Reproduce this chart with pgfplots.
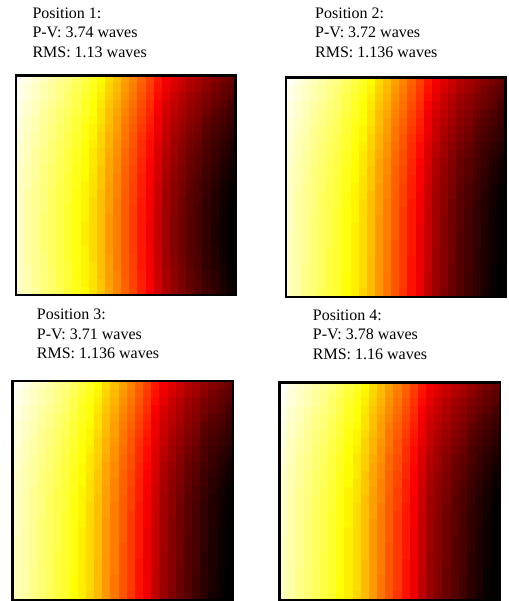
\documentclass[border=0pt]{standalone}
\usepackage{pgfplots}
\pgfplotsset{compat=1.18}
\usepackage{pgfplotstable}
\usepackage{fontspec}
\setmainfont{Liberation Serif}
% x = column, y = row (0 = top); a = position 1, b = positions 2-4
\pgfplotstableread{
x y a b
0 0 99 99
1 0 97 97
2 0 95 95
3 0 93 93
4 0 91 91
5 0 89 89
6 0 87 87
7 0 84 84
8 0 81 81
9 0 78 78
10 0 74 74
11 0 69 69
12 0 65 65
13 0 60 60
14 0 56 56
15 0 51 51
16 0 46 46
17 0 40 40
18 0 35 35
19 0 32 32
20 0 29 29
21 0 26 26
22 0 24 24
23 0 21 21
24 0 19 19
25 0 17 17
26 0 15 15
0 1 98 98
1 1 96 96
2 1 94 94
3 1 92 92
4 1 90 90
5 1 88 88
6 1 86 86
7 1 83 83
8 1 80 80
9 1 77 77
10 1 73 73
11 1 68 68
12 1 64 64
13 1 59 59
14 1 55 55
15 1 50 50
16 1 45 45
17 1 39 39
18 1 34 34
19 1 31 31
20 1 28 28
21 1 25 25
22 1 23 23
23 1 20 20
24 1 17 17
25 1 15 15
26 1 13 13
0 2 98 98
1 2 96 96
2 2 94 94
3 2 92 92
4 2 90 90
5 2 88 88
6 2 85 85
7 2 82 82
8 2 79 79
9 2 76 76
10 2 72 72
11 2 67 67
12 2 63 63
13 2 58 58
14 2 54 54
15 2 49 49
16 2 44 44
17 2 38 38
18 2 33 33
19 2 29 29
20 2 26 26
21 2 23 23
22 2 21 21
23 2 18 18
24 2 16 16
25 2 14 14
26 2 12 12
0 3 97 97
1 3 95 95
2 3 93 93
3 3 91 91
4 3 89 89
5 3 87 87
6 3 85 85
7 3 82 82
8 3 78 78
9 3 75 75
10 3 71 71
11 3 66 66
12 3 62 62
13 3 57 57
14 3 53 53
15 3 48 48
16 3 43 43
17 3 36 36
18 3 31 31
19 3 28 28
20 3 25 25
21 3 22 22
22 3 20 20
23 3 17 17
24 3 15 15
25 3 13 13
26 3 10 10
0 4 97 97
1 4 95 95
2 4 93 93
3 4 90 90
4 4 88 88
5 4 86 86
6 4 84 84
7 4 81 81
8 4 78 78
9 4 75 75
10 4 70 70
11 4 65 65
12 4 61 61
13 4 56 56
14 4 52 52
15 4 47 47
16 4 42 42
17 4 35 35
18 4 30 30
19 4 27 27
20 4 24 24
21 4 21 21
22 4 19 19
23 4 16 16
24 4 13 13
25 4 11 11
26 4 9 9
0 5 96 96
1 5 94 94
2 5 92 92
3 5 90 90
4 5 88 88
5 5 86 86
6 5 83 83
7 5 80 80
8 5 77 77
9 5 74 74
10 5 70 70
11 5 65 65
12 5 60 60
13 5 55 55
14 5 51 51
15 5 46 46
16 5 41 41
17 5 34 34
18 5 29 29
19 5 26 26
20 5 23 23
21 5 20 20
22 5 18 18
23 5 14 14
24 5 12 12
25 5 10 10
26 5 8 8
0 6 96 96
1 6 94 94
2 6 92 92
3 6 89 89
4 6 87 87
5 6 85 85
6 6 83 83
7 6 80 80
8 6 76 76
9 6 73 73
10 6 69 69
11 6 64 64
12 6 60 60
13 6 54 54
14 6 50 50
15 6 45 45
16 6 40 40
17 6 34 34
18 6 28 28
19 6 25 25
20 6 22 22
21 6 19 19
22 6 17 17
23 6 13 13
24 6 11 11
25 6 9 9
26 6 7 7
0 7 96 96
1 7 93 93
2 7 91 91
3 7 89 89
4 7 87 87
5 7 85 85
6 7 82 82
7 7 79 79
8 7 76 76
9 7 73 73
10 7 68 68
11 7 63 63
12 7 59 59
13 7 54 54
14 7 49 49
15 7 44 44
16 7 39 39
17 7 33 33
18 7 28 28
19 7 24 24
20 7 21 21
21 7 18 18
22 7 16 16
23 7 12 12
24 7 10 10
25 7 8 8
26 7 6 6
0 8 95 95
1 8 93 93
2 8 91 91
3 8 89 89
4 8 86 86
5 8 84 84
6 8 82 82
7 8 79 79
8 8 75 75
9 8 72 72
10 8 68 68
11 8 63 63
12 8 58 58
13 8 53 53
14 8 49 49
15 8 43 43
16 8 38 38
17 8 32 32
18 8 27 27
19 8 23 23
20 8 20 20
21 8 17 17
22 8 15 15
23 8 11 11
24 8 9 9
25 8 7 7
26 8 5 5
0 9 95 95
1 9 93 93
2 9 90 90
3 9 88 88
4 9 86 86
5 9 84 84
6 9 81 81
7 9 78 78
8 9 75 75
9 9 71 71
10 9 67 67
11 9 62 62
12 9 58 58
13 9 52 52
14 9 48 48
15 9 43 43
16 9 38 38
17 9 31 31
18 9 26 26
19 9 23 23
20 9 19 19
21 9 16 16
22 9 14 14
23 9 11 11
24 9 8 8
25 9 6 6
26 9 4 4
0 10 95 95
1 10 92 92
2 10 90 90
3 10 88 88
4 10 86 86
5 10 83 83
6 10 81 81
7 10 78 78
8 10 74 74
9 10 71 71
10 10 67 67
11 10 61 61
12 10 57 57
13 10 52 52
14 10 48 48
15 10 42 42
16 10 37 37
17 10 31 31
18 10 25 25
19 10 22 22
20 10 19 19
21 10 15 15
22 10 13 13
23 10 10 10
24 10 8 8
25 10 5 5
26 10 3 3
0 11 94 94
1 11 92 92
2 11 90 90
3 11 87 87
4 11 85 85
5 11 83 83
6 11 81 81
7 11 77 77
8 11 74 74
9 11 71 71
10 11 66 66
11 11 61 61
12 11 57 57
13 11 51 51
14 11 47 47
15 11 42 42
16 11 36 36
17 11 30 30
18 11 25 25
19 11 21 21
20 11 18 18
21 11 15 15
22 11 13 13
23 11 9 9
24 11 7 7
25 11 5 5
26 11 2 2
0 12 94 94
1 12 92 92
2 12 90 90
3 12 87 87
4 12 85 85
5 12 83 83
6 12 80 80
7 12 77 77
8 12 74 74
9 12 70 70
10 12 66 66
11 12 61 61
12 12 56 56
13 12 51 51
14 12 47 47
15 12 41 41
16 12 36 36
17 12 30 30
18 12 24 24
19 12 21 21
20 12 18 18
21 12 14 14
22 12 12 12
23 12 9 9
24 12 6 6
25 12 4 4
26 12 2 2
0 13 94 94
1 13 92 92
2 13 89 89
3 13 87 87
4 13 85 85
5 13 82 82
6 13 80 80
7 13 77 77
8 13 73 73
9 13 70 70
10 13 66 66
11 13 60 60
12 13 56 56
13 13 51 51
14 13 46 46
15 13 41 41
16 13 36 36
17 13 29 29
18 13 24 24
19 13 20 20
20 13 17 17
21 13 14 14
22 13 11 11
23 13 8 8
24 13 6 6
25 13 3 3
26 13 1 1
0 14 94 94
1 14 91 91
2 14 89 89
3 14 87 87
4 14 84 84
5 14 82 82
6 14 80 80
7 14 76 76
8 14 73 73
9 14 70 70
10 14 65 65
11 14 60 60
12 14 56 56
13 14 50 50
14 14 46 46
15 14 41 41
16 14 35 35
17 14 29 29
18 14 23 23
19 14 20 20
20 14 17 17
21 14 13 13
22 14 11 11
23 14 8 8
24 14 5 5
25 14 3 3
26 14 1 1
0 15 94 94
1 15 91 91
2 15 89 89
3 15 87 87
4 15 84 84
5 15 82 82
6 15 80 80
7 15 76 76
8 15 73 73
9 15 69 69
10 15 65 65
11 15 60 60
12 15 55 55
13 15 50 50
14 15 46 46
15 15 40 40
16 15 35 35
17 15 29 29
18 15 23 23
19 15 20 20
20 15 16 16
21 15 13 13
22 15 11 11
23 15 7 7
24 15 5 5
25 15 3 3
26 15 0 0
0 16 94 94
1 16 91 91
2 16 89 89
3 16 87 87
4 16 84 84
5 16 82 82
6 16 79 79
7 16 76 76
8 16 73 73
9 16 69 69
10 16 65 65
11 16 60 60
12 16 55 55
13 16 50 50
14 16 45 45
15 16 40 40
16 16 35 35
17 16 28 28
18 16 23 23
19 16 20 20
20 16 16 16
21 16 13 13
22 16 10 10
23 16 7 7
24 16 5 5
25 16 2 2
26 16 0 0
0 17 94 94
1 17 91 91
2 17 89 89
3 17 86 86
4 17 84 84
5 17 82 82
6 17 79 79
7 17 76 76
8 17 73 73
9 17 69 69
10 17 65 65
11 17 59 59
12 17 55 55
13 17 50 50
14 17 45 45
15 17 40 40
16 17 35 35
17 17 28 28
18 17 23 23
19 17 19 19
20 17 16 16
21 17 13 13
22 17 10 10
23 17 7 7
24 17 5 5
25 17 2 2
26 17 0 0
0 18 94 94
1 18 91 91
2 18 89 89
3 18 86 86
4 18 84 84
5 18 82 82
6 18 79 79
7 18 76 76
8 18 72 72
9 18 69 69
10 18 65 65
11 18 59 59
12 18 55 55
13 18 50 50
14 18 45 45
15 18 40 40
16 18 34 34
17 18 28 28
18 18 23 23
19 18 19 19
20 18 16 16
21 18 13 13
22 18 10 10
23 18 7 7
24 18 4 4
25 18 2 2
26 18 0 0
0 19 94 93
1 19 91 91
2 19 89 89
3 19 86 86
4 19 84 84
5 19 82 82
6 19 79 79
7 19 76 76
8 19 72 72
9 19 69 69
10 19 65 65
11 19 59 59
12 19 55 55
13 19 50 50
14 19 45 45
15 19 40 40
16 19 34 34
17 19 28 28
18 19 23 23
19 19 19 19
20 19 16 16
21 19 13 12
22 19 10 10
23 19 7 7
24 19 4 4
25 19 2 2
26 19 0 0
0 20 94 93
1 20 91 91
2 20 89 89
3 20 86 86
4 20 84 84
5 20 82 82
6 20 79 79
7 20 76 76
8 20 72 72
9 20 69 69
10 20 65 65
11 20 59 59
12 20 55 55
13 20 50 49
14 20 45 45
15 20 40 40
16 20 34 34
17 20 28 28
18 20 23 23
19 20 19 19
20 20 16 16
21 20 13 12
22 20 10 10
23 20 7 7
24 20 4 4
25 20 2 2
26 20 0 0
0 21 94 93
1 21 91 91
2 21 89 89
3 21 86 86
4 21 84 84
5 21 82 81
6 21 79 79
7 21 76 76
8 21 73 72
9 21 69 69
10 21 65 65
11 21 59 59
12 21 55 55
13 21 50 49
14 21 45 45
15 21 40 40
16 21 35 34
17 21 28 28
18 21 23 22
19 21 19 19
20 21 16 16
21 21 13 12
22 21 10 10
23 21 7 6
24 21 5 4
25 21 2 2
26 21 0 0
0 22 94 93
1 22 91 91
2 22 89 89
3 22 87 86
4 22 84 84
5 22 82 81
6 22 79 79
7 22 76 76
8 22 73 72
9 22 69 69
10 22 65 64
11 22 60 59
12 22 55 55
13 22 50 49
14 22 46 45
15 22 40 39
16 22 35 34
17 22 28 28
18 22 23 22
19 22 20 19
20 22 16 16
21 22 13 12
22 22 11 10
23 22 7 6
24 22 5 4
25 22 2 2
26 22 0 0
0 23 94 93
1 23 91 91
2 23 89 88
3 23 87 86
4 23 84 84
5 23 82 81
6 23 80 79
7 23 76 76
8 23 73 72
9 23 70 69
10 23 65 64
11 23 60 59
12 23 55 55
13 23 50 49
14 23 46 45
15 23 40 39
16 23 35 34
17 23 29 28
18 23 23 22
19 23 20 19
20 23 17 15
21 23 13 12
22 23 11 10
23 23 7 6
24 23 5 4
25 23 3 1
26 23 0 0
0 24 94 93
1 24 92 91
2 24 89 88
3 24 87 86
4 24 85 84
5 24 82 81
6 24 80 79
7 24 76 75
8 24 73 72
9 24 70 69
10 24 65 64
11 24 60 59
12 24 56 54
13 24 50 49
14 24 46 45
15 24 41 39
16 24 35 34
17 24 29 27
18 24 24 22
19 24 20 19
20 24 17 15
21 24 14 12
22 24 11 9
23 24 8 6
24 24 6 4
25 24 3 1
26 24 1 0
0 25 94 93
1 25 92 91
2 25 89 88
3 25 87 86
4 25 85 84
5 25 82 81
6 25 80 79
7 25 77 75
8 25 73 72
9 25 70 69
10 25 66 64
11 25 60 59
12 25 56 54
13 25 51 49
14 25 46 45
15 25 41 39
16 25 36 34
17 25 29 27
18 25 24 22
19 25 21 19
20 25 17 15
21 25 14 12
22 25 12 9
23 25 8 6
24 25 6 4
25 25 4 1
26 25 1 0
0 26 94 93
1 26 92 91
2 26 90 88
3 26 87 86
4 26 85 83
5 26 83 81
6 26 80 79
7 26 77 75
8 26 74 72
9 26 70 68
10 26 66 64
11 26 61 59
12 26 56 54
13 26 51 49
14 26 47 44
15 26 41 39
16 26 36 34
17 26 30 27
18 26 25 22
19 26 21 18
20 26 18 15
21 26 15 12
22 26 12 9
23 26 9 6
24 26 7 3
25 26 4 1
26 26 2 0
}\wavedata

\pgfplotsset{
  colormap={hotmap}{rgb255(0cm)=(0,0,0) rgb255(7.3cm)=(255,0,0) rgb255(14.9cm)=(255,255,0) rgb255(20cm)=(255,255,255)},
  wfax/.style={
    scale only axis, anchor=north west,
    xmin=-0.5, xmax=26.5, ymin=-0.5, ymax=26.5, y dir=reverse,
    enlargelimits=false, ticks=none,
    axis line style={line width=2.4bp, black},
    colormap name=hotmap, point meta min=0, point meta max=100,
  },
  cells/.style={scatter, only marks, mark=square*, mark size=4.2bp,
    mark options={line width=0.3bp},
    point meta=explicit,
    scatter/use mapped color={draw=mapped color, fill=mapped color}},
}

\begin{document}
\begin{tikzpicture}[font=\fontsize{16bp}{19.5bp}\selectfont]
\useasboundingbox (0,0) rectangle (509bp,-601bp);

\begin{axis}[wfax, at={(15.8bp,-75.6bp)}, width=219.5bp, height=219.5bp]
\addplot[cells] table[x=x, y=y, meta=a] {\wavedata};
\coordinate (A1) at (rel axis cs:0,0);
\coordinate (B1) at (rel axis cs:1,1);
\end{axis}
\draw[line width=2.4bp] (A1) rectangle (B1);

\begin{axis}[wfax, at={(285.8bp,-77.3bp)}, width=219.5bp, height=219.5bp]
\addplot[cells] table[x=x, y=y, meta=b] {\wavedata};
\coordinate (A2) at (rel axis cs:0,0);
\coordinate (B2) at (rel axis cs:1,1);
\end{axis}
\draw[line width=2.4bp] (A2) rectangle (B2);

\begin{axis}[wfax, at={(12.7bp,-381bp)}, width=220.5bp, height=218.8bp]
\addplot[cells] table[x=x, y=y, meta=b] {\wavedata};
\coordinate (A3) at (rel axis cs:0,0);
\coordinate (B3) at (rel axis cs:1,1);
\end{axis}
\draw[line width=2.4bp] (A3) rectangle (B3);

\begin{axis}[wfax, at={(279.3bp,-382.3bp)}, width=220.5bp, height=217.5bp]
\addplot[cells] table[x=x, y=y, meta=b] {\wavedata};
\coordinate (A4) at (rel axis cs:0,0);
\coordinate (B4) at (rel axis cs:1,1);
\end{axis}
\draw[line width=2.4bp] (A4) rectangle (B4);

\node[anchor=base west, inner sep=0pt] at (32.3bp,-18.3bp) {Position 1:};
\node[anchor=base west, inner sep=0pt] at (32.3bp,-37.8bp) {P-V: 3.74 waves};
\node[anchor=base west, inner sep=0pt] at (32.3bp,-57.3bp) {RMS: 1.13 waves};

\node[anchor=base west, inner sep=0pt] at (315bp,-18.3bp) {Position 2:};
\node[anchor=base west, inner sep=0pt] at (315bp,-37.8bp) {P-V: 3.72 waves};
\node[anchor=base west, inner sep=0pt] at (315bp,-57.3bp) {RMS: 1.136 waves};

\node[anchor=base west, inner sep=0pt] at (36.7bp,-319.5bp) {Position 3:};
\node[anchor=base west, inner sep=0pt] at (36.7bp,-339bp) {P-V: 3.71 waves};
\node[anchor=base west, inner sep=0pt] at (36.7bp,-358.5bp) {RMS: 1.136 waves};

\node[anchor=base west, inner sep=0pt] at (312.7bp,-320bp) {Position 4:};
\node[anchor=base west, inner sep=0pt] at (312.7bp,-339.5bp) {P-V: 3.78 waves};
\node[anchor=base west, inner sep=0pt] at (312.7bp,-359bp) {RMS: 1.16 waves};
\end{tikzpicture}
\end{document}
